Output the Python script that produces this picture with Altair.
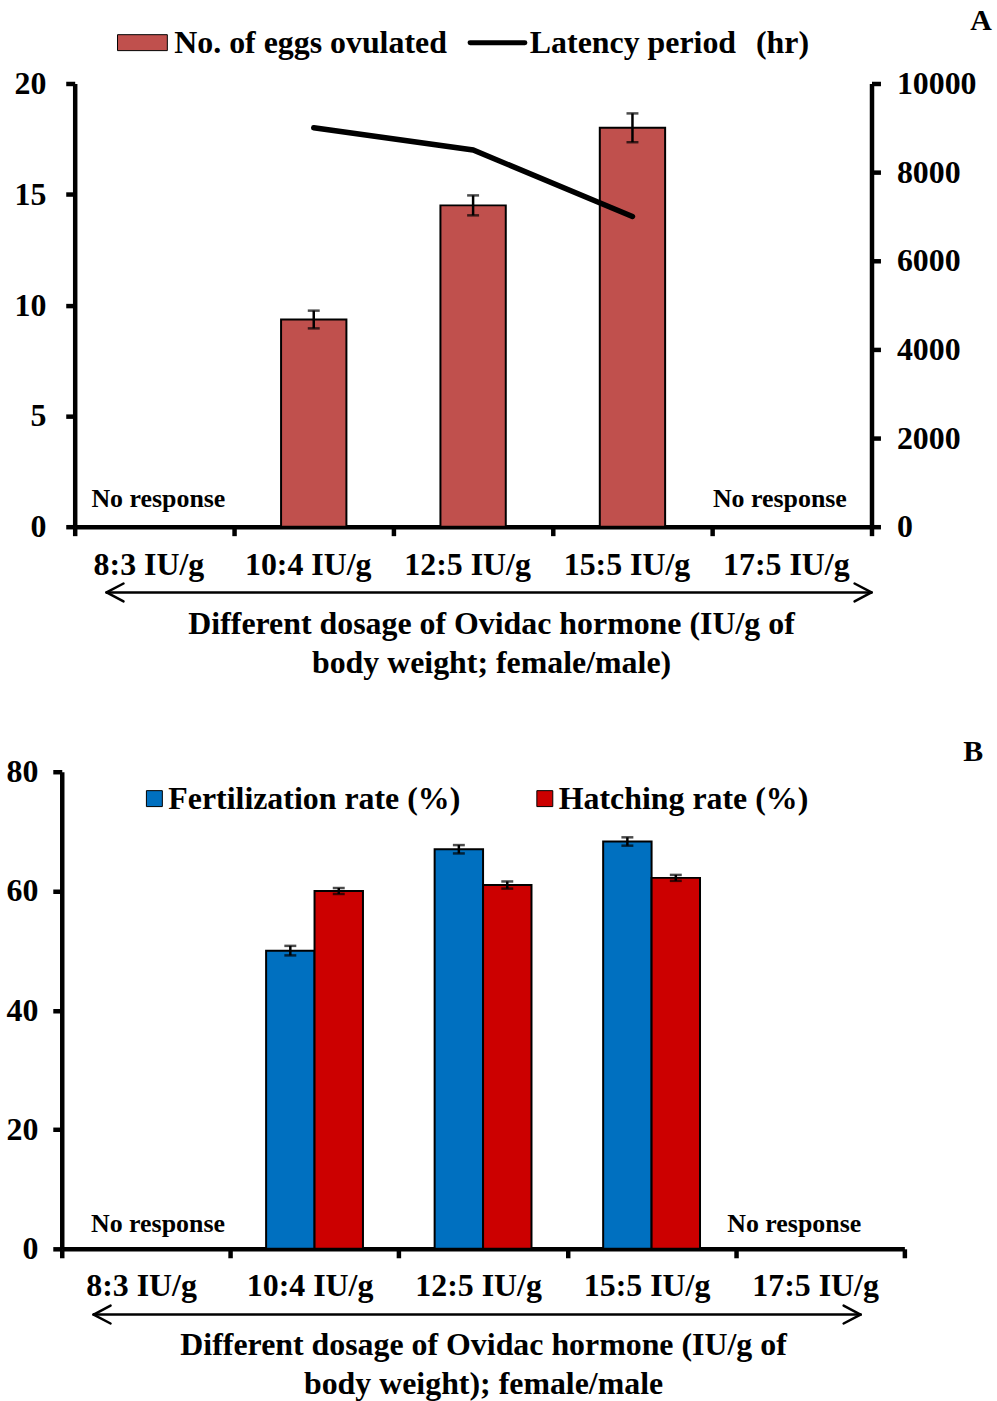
import altair as alt
import pandas as pd

# ---- data -------------------------------------------------------------
doses = ["8:3 IU/g", "10:4 IU/g", "12:5 IU/g", "15:5 IU/g", "17:5 IU/g"]
responding = ["10:4 IU/g", "12:5 IU/g", "15:5 IU/g"]

eggs = [9.35, 14.5, 18.0]          # no. of eggs ovulated
eggs_se = [0.4, 0.45, 0.65]
latency = [9000, 8500, 7000]       # latency period (hr)

series_b = ["Fertilization rate (%)", "Hatching rate (%)"]
fert = [50.0, 67.0, 68.3]
fert_se = [0.8, 0.7, 0.7]
hatch = [60.0, 61.0, 62.2]
hatch_se = [0.5, 0.6, 0.5]

title_a = ["Different dosage of Ovidac hormone (IU/g of", "body weight; female/male)"]
title_b = ["Different dosage of Ovidac hormone (IU/g of", "body weight); female/male"]

# ---- styling ----------------------------------------------------------
FONT = "Liberation Serif"
EGG_RED = "#C0504D"
FERT_BLUE = "#0070C0"
HATCH_RED = "#CC0000"
AX_W = 4.5
TXT = 32

one_row = alt.Data(values=[{"k": 0}])


def seg(x1, y1, x2, y2, width=2.5, color="black"):
    return alt.Chart(one_row).mark_rule(color=color, strokeWidth=width, strokeCap="round").encode(
        x=alt.value(x1), x2=alt.value(x2), y=alt.value(y1), y2=alt.value(y2))


def label(x, y, text, size=TXT, align="left"):
    return alt.Chart(one_row).mark_text(
        text=text, font=FONT, fontWeight="bold", fontSize=size, align=align,
        baseline="middle", color="black").encode(x=alt.value(x), y=alt.value(y))


def arrow(x1, x2, y):
    return [seg(x1, y, x2, y, 2.5),
            seg(x1, y, x1 + 17, y - 9, 2.5), seg(x1, y, x1 + 17, y + 9, 2.5),
            seg(x2, y, x2 - 17, y - 9, 2.5), seg(x2, y, x2 - 17, y + 9, 2.5)]


def no_response(x_enc, dose, dx, y):
    return alt.Chart(alt.Data(values=[{"dose": dose}])).mark_text(
        text="No response", font=FONT, fontWeight="bold", fontSize=26,
        dx=dx, baseline="middle", color="black").encode(x=x_enc, y=alt.value(y))


def x_enc(title, label_pad, title_pad, label_off, title_x, rng=None):
    scale_args = dict(domain=doses, paddingInner=0, paddingOuter=0)
    if rng is not None:
        scale_args["range"] = rng
    return alt.X("dose:N", sort=doses, scale=alt.Scale(**scale_args),
                 axis=alt.Axis(title=title, tickBand="extent", labelAngle=0,
                               labelPadding=label_pad, labelOffset=label_off,
                               titlePadding=title_pad, titleX=title_x,
                               titleLineHeight=39, titleBaseline="top"))


# ---- panel A: eggs ovulated (bars) and latency period (line) ----------
W_A, H_A = 800, 445
df_a = pd.DataFrame({"dose": responding, "eggs": eggs, "se": eggs_se, "latency": latency})
base_a = alt.Chart(df_a).transform_calculate(
    lo="datum.eggs - datum.se", hi="datum.eggs + datum.se")
xa = x_enc(title_a, 14, 28, -6, 418)
ya = alt.Y("eggs:Q", scale=alt.Scale(domain=[0, 20]),
           axis=alt.Axis(values=[0, 5, 10, 15, 20], title=None, labelPadding=20))

bars_a = base_a.mark_bar(fill=EGG_RED, stroke="black", strokeWidth=2,
                         width=alt.RelativeBandSize(0.41)).encode(x=xa, y=ya)
err_a = base_a.mark_rule(color="black", strokeWidth=2.5).encode(
    x=xa, y=alt.Y("lo:Q"), y2="hi:Q")
cap_lo_a = base_a.mark_tick(color="black", size=12, thickness=2.5).encode(x=xa, y="lo:Q")
cap_hi_a = base_a.mark_tick(color="black", size=12, thickness=2.5).encode(x=xa, y="hi:Q")

legend_a = [
    alt.Chart(one_row).mark_rect(fill=EGG_RED, stroke="black", strokeWidth=1).encode(
        x=alt.value(43), x2=alt.value(93), y=alt.value(-49), y2=alt.value(-33)),
    label(100, -41, "No. of eggs ovulated"),
    seg(397, -41, 452, -41, 5),
    label(457, -41, "Latency period"),
    label(684, -41, "(hr)"),
]

left_a = alt.layer(
    bars_a, err_a, cap_lo_a, cap_hi_a,
    no_response(xa, doses[0], 4, 417),
    no_response(xa, doses[-1], -12, 417),
    *arrow(32, 800, 66 + H_A),
    *legend_a,
    label(910, -63, "A", size=30, align="center"),
)

line_a = base_a.mark_line(color="black", strokeWidth=5.5, strokeCap="round").encode(
    x=xa,
    y=alt.Y("latency:Q", scale=alt.Scale(domain=[0, 10000]),
            axis=alt.Axis(orient="right", values=[0, 2000, 4000, 6000, 8000, 10000],
                          format="d", title=None, labelPadding=16)))

panel_a = alt.layer(left_a, line_a).resolve_scale(y="independent").properties(
    width=W_A, height=H_A)

# ---- panel B: fertilization and hatching rates ------------------------
# the y axis sits 13 px left of panel A's, so the band range starts at -13
SHIFT_B = 13
W_B, H_B = 833, 479
df_b = pd.DataFrame({
    "dose": responding + responding,
    "series": [series_b[0]] * len(fert) + [series_b[1]] * len(hatch),
    "rate": fert + hatch,
    "se": fert_se + hatch_se,
})
base_b = alt.Chart(df_b).transform_calculate(
    lo="datum.rate - datum.se", hi="datum.rate + datum.se")
xb = x_enc(title_b, 13, 28, -5, (W_B - SHIFT_B) / 2, rng=[-SHIFT_B, W_B])
xo = alt.XOffset("series:N", sort=series_b,
                 scale=alt.Scale(domain=series_b, paddingInner=0, paddingOuter=0.74))
yb = alt.Y("rate:Q", scale=alt.Scale(domain=[0, 80]),
           axis=alt.Axis(values=[0, 20, 40, 60, 80], title=None, labelPadding=15,
                         offset=SHIFT_B))

bars_b = base_b.mark_bar(stroke="black", strokeWidth=2).encode(
    x=xb, xOffset=xo, y=yb,
    fill=alt.Fill("series:N", scale=alt.Scale(domain=series_b, range=[FERT_BLUE, HATCH_RED]),
                  legend=None))
err_b = base_b.mark_rule(color="black", strokeWidth=2.5).encode(
    x=xb, xOffset=xo, y=alt.Y("lo:Q"), y2="hi:Q")
cap_lo_b = base_b.mark_tick(color="black", size=12, thickness=2.5).encode(
    x=xb, xOffset=xo, y="lo:Q")
cap_hi_b = base_b.mark_tick(color="black", size=12, thickness=2.5).encode(
    x=xb, xOffset=xo, y="hi:Q")

legend_b = [
    alt.Chart(one_row).mark_rect(fill=FERT_BLUE, stroke="black", strokeWidth=1).encode(
        x=alt.value(72), x2=alt.value(88), y=alt.value(19), y2=alt.value(35)),
    label(94, 27, series_b[0]),
    alt.Chart(one_row).mark_rect(fill=HATCH_RED, stroke="black", strokeWidth=1).encode(
        x=alt.value(464), x2=alt.value(480), y=alt.value(19), y2=alt.value(35)),
    label(486, 27, series_b[1]),
]

panel_b = alt.layer(
    bars_b, err_b, cap_lo_b, cap_hi_b,
    no_response(xb, doses[0], 12, 454),
    no_response(xb, doses[-1], -26, 454),
    *arrow(19, 789, 66 + H_B),
    *legend_b,
    label(902, -20, "B", size=30, align="center"),
).properties(width=W_B, height=H_B)

chart = alt.vconcat(panel_a, panel_b, spacing=59).properties(
    padding={"left": 6, "top": 3, "right": 5, "bottom": 5}
).configure(font=FONT).configure_view(stroke=None).configure_axis(
    grid=False,
    domainColor="black", domainWidth=AX_W,
    tickColor="black", tickWidth=AX_W, tickSize=9,
    labelFont=FONT, labelFontWeight="bold", labelFontSize=TXT, labelColor="black",
    titleFont=FONT, titleFontWeight="bold", titleFontSize=TXT, titleColor="black",
)

chart.save("out.html", embed_options={"renderer": "svg", "actions": False})
